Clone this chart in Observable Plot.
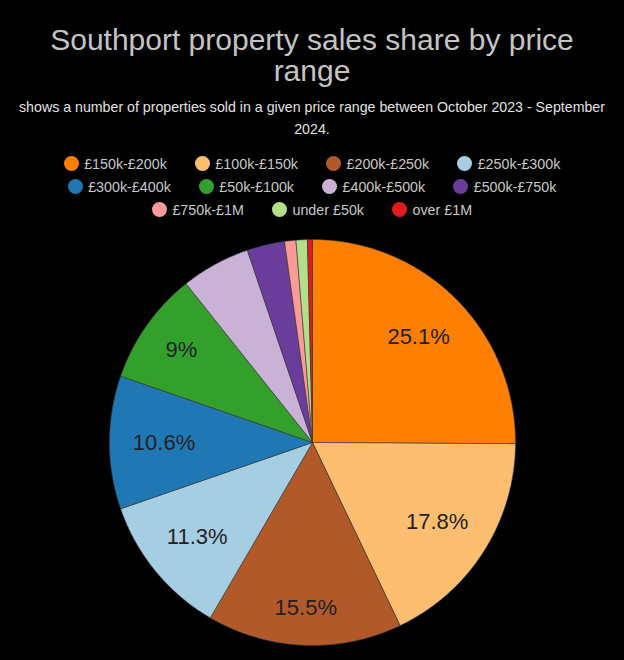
<!DOCTYPE html>
<html><head><meta charset="utf-8">
<script src="https://cdn.jsdelivr.net/npm/d3@7"></script>
<script src="https://cdn.jsdelivr.net/npm/@observablehq/plot@0.6"></script>
<style>
html,body{margin:0;padding:0;background:#000;}
body{width:624px;font-family:"Liberation Sans",Arial,sans-serif;}
#title{color:#c4c4c4;font-size:30px;line-height:31px;text-align:center;width:560px;margin:24px auto 0 auto;}
#subtitle{color:#e0e0e0;font-size:14.2px;line-height:22px;text-align:center;width:600px;margin:9.5px auto 0 auto;}
#legend{display:flex;flex-wrap:wrap;justify-content:center;column-gap:28px;width:560px;margin:12.5px auto 0 auto;}
.item{display:flex;align-items:center;height:23px;color:#c8c8c8;font-size:14.3px;}
.dot{width:15px;height:15px;border-radius:50%;margin-right:5.5px;}
#chart{display:block;}
</style>
</head><body>
<div id="title">Southport property sales share by price range</div>
<div id="subtitle">shows a number of properties sold in a given price range between October 2023 - September 2024.</div>
<div id="legend"></div>
<div id="chart"></div>
<script>
const categories = ["£150k-£200k","£100k-£150k","£200k-£250k","£250k-£300k","£300k-£400k","£50k-£100k","£400k-£500k","£500k-£750k","£750k-£1M","under £50k","over £1M"];
const shares = [25.1,17.8,15.5,11.3,10.6,9,5.5,3.0,0.9,0.9,0.4];
const colors = ["#ff7f00","#fdbf6f","#b15928","#a6cee3","#1f78b4","#33a02c","#cab2d6","#6a3d9a","#fb9a99","#b2df8a","#e31a1c"];
const labelMin = 9;

// legend
const legend = document.getElementById("legend");
categories.forEach((c, i) => {
  const it = document.createElement("div"); it.className = "item";
  const d = document.createElement("span"); d.className = "dot"; d.style.background = colors[i];
  const t = document.createElement("span"); t.textContent = c;
  it.appendChild(d); it.appendChild(t); legend.appendChild(it);
});

const W = 624, H = 439, mL = 109, mR = 109, mT = 18;
const R = (W - mL - mR) / 2;       // pie radius in px
const mB = H - mT - 2 * R;
const labelFont = 22;

const rows = categories.map((c, i) => ({cat: c, share: shares[i]}));
const arcs = d3.pie().sort(null).value(d => d.share)(rows);

// slice outlines in unit-circle coordinates
const pts = [];
arcs.forEach(a => {
  const cat = a.data.cat;
  pts.push({cat, x: 0, y: 0});
  const n = Math.max(2, Math.ceil((a.endAngle - a.startAngle) / (Math.PI / 360)));
  for (let k = 0; k <= n; k++) {
    const ang = a.startAngle + (a.endAngle - a.startAngle) * k / n;
    pts.push({cat, x: Math.sin(ang), y: Math.cos(ang)});
  }
  pts.push({cat, x: 0, y: 0});
});

// labels: pushed out along the bisector until the far corner of the text box is 23px inside the rim
const ctx = document.createElement("canvas").getContext("2d");
ctx.font = `${labelFont}px "Liberation Sans", Arial, sans-serif`;
const labels = arcs.filter(a => a.data.share >= labelMin).map(a => {
  const m = (a.startAngle + a.endAngle) / 2;
  const text = `${a.data.share}%`;
  const hw = ctx.measureText(text).width / 2, hh = labelFont / 2;
  const ux = Math.abs(Math.sin(m)), uy = Math.abs(Math.cos(m));
  const D = R - 23;
  const b = ux * hw + uy * hh, c = hw * hw + hh * hh - D * D;
  const r = (-b + Math.sqrt(b * b - c)) / R;
  return {x: r * Math.sin(m), y: r * Math.cos(m), text};
});

const plot = Plot.plot({
  width: W,
  height: H,
  marginLeft: mL, marginRight: mR, marginTop: mT, marginBottom: mB,
  x: {domain: [-1, 1], axis: null},
  y: {domain: [-1, 1], axis: null},
  color: {domain: categories, range: colors, type: "ordinal"},
  style: {background: "#000", color: "#ccc"},
  marks: [
    Plot.line(pts, {x: "x", y: "y", z: "cat", fill: "cat", stroke: "#3a3a3a", strokeWidth: 0.6, curve: "linear"}),
    Plot.text(labels, {x: "x", y: "y", text: "text", fill: "#222", fontSize: labelFont, fontFamily: "Liberation Sans, Arial, sans-serif"})
  ]
});
document.getElementById("chart").appendChild(plot);
</script>
</body></html>
